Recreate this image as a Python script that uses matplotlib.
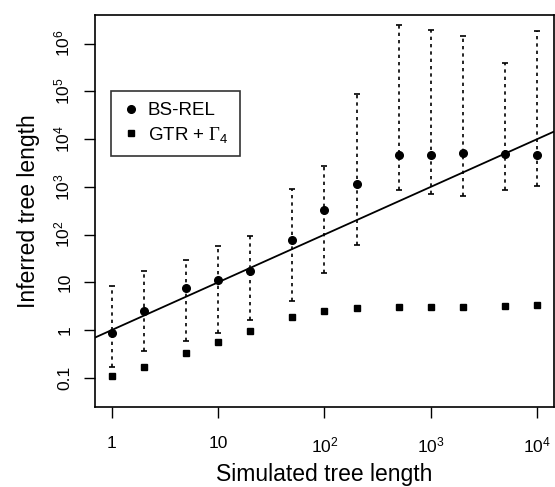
import numpy as np
import matplotlib
matplotlib.use('Agg')
import matplotlib.pyplot as plt

plt.rcParams['font.family'] = ['Liberation Sans', 'DejaVu Sans']
plt.rcParams['mathtext.fontset'] = 'custom'
plt.rcParams['mathtext.rm'] = 'Liberation Sans'
plt.rcParams['mathtext.it'] = 'Liberation Sans'
plt.rcParams['mathtext.sf'] = 'Liberation Serif'

# simulated tree lengths
sim_len = np.array([1, 2, 5, 10, 20, 50, 100, 200, 500, 1000, 2000, 5000, 10000])
# BS-REL inferred lengths and interval ends
bsrel = np.array([0.85, 2.46, 7.45, 11.1, 16.9, 77, 329, 1172, 4650, 4640, 5120, 4800, 4640])
bsrel_hi = np.array([8.4, 17.4, 30, 59, 92.6, 891, 2735, 86500, 2.44e6, 1.95e6, 1.43e6, 3.98e5, 1.83e6])
bsrel_lo = np.array([0.17, 0.37, 0.59, 0.86, 1.64, 4.1, 15.4, 60, 861, 710, 646, 849, 1045])
# GTR + Gamma4 inferred lengths
gtr = np.array([0.108, 0.17, 0.335, 0.57, 0.97, 1.85, 2.53, 2.89, 2.99, 3.03, 3.03, 3.13, 3.33])

xticks = [1, 10, 100, 1000, 10000]
xticklabels = ['1', '10', '10$^2$', '10$^3$', '10$^4$']
yticks = [0.1, 1, 10, 100, 1e3, 1e4, 1e5, 1e6]
yticklabels = ['0.1', '1', '10', '10$^2$', '10$^3$', '10$^4$', '10$^5$', '10$^6$']

fig = plt.figure(figsize=(5.55, 4.87), dpi=100)
ax = fig.add_axes([0.1706, 0.1649, 0.8281, 0.8049])
ax.set_xscale('log')
ax.set_yscale('log')
ax.set_xlim(10**-0.16, 10**4.16)
ax.set_ylim(10**-1.605, 10**6.605)

eb = ax.errorbar(sim_len, bsrel, yerr=[bsrel - bsrel_lo, bsrel_hi - bsrel],
                 fmt='none', ecolor='black', elinewidth=1.2, capsize=2.2, capthick=1.2)
for lc in eb[2]:
    lc.set_linestyle((0, (2.0, 2.4)))

ax.axline((1, 1), (10, 10), color='black', lw=1.3)

ax.plot(sim_len, bsrel, 'o', color='black', ms=5.5, label='BS-REL', zorder=4)
ax.plot(sim_len, gtr, 's', color='black', ms=5, label=r'GTR + $\mathsf{\Gamma}_4$', zorder=4)

ax.set_xticks(xticks)
ax.set_xticklabels(xticklabels)
ax.set_yticks(yticks)
ax.set_yticklabels(yticklabels, rotation=90, va='center')
ax.minorticks_off()
ax.tick_params(direction='out', length=8, width=1, labelsize=12.5, pad=13)
ax.tick_params(axis='y', pad=8)
for s in ax.spines.values():
    s.set_linewidth(1.2)

ax.set_xlabel('Simulated tree length', fontsize=16.5)
ax.set_ylabel('Inferred tree length', fontsize=16.5)
ax.xaxis.set_label_coords(0.5, -0.143)
ax.yaxis.set_label_coords(-0.12, 0.5)

leg = ax.legend(loc='upper left', bbox_to_anchor=(111 / 555, 1 - 91 / 487),
                bbox_transform=fig.transFigure, borderaxespad=0,
                frameon=True, fancybox=False, edgecolor='black', fontsize=13.5,
                handlelength=0.9, handletextpad=0.45, borderpad=0.6, labelspacing=0.3)
leg.get_frame().set_linewidth(1.2)

fig.savefig('out.png', dpi=100)
